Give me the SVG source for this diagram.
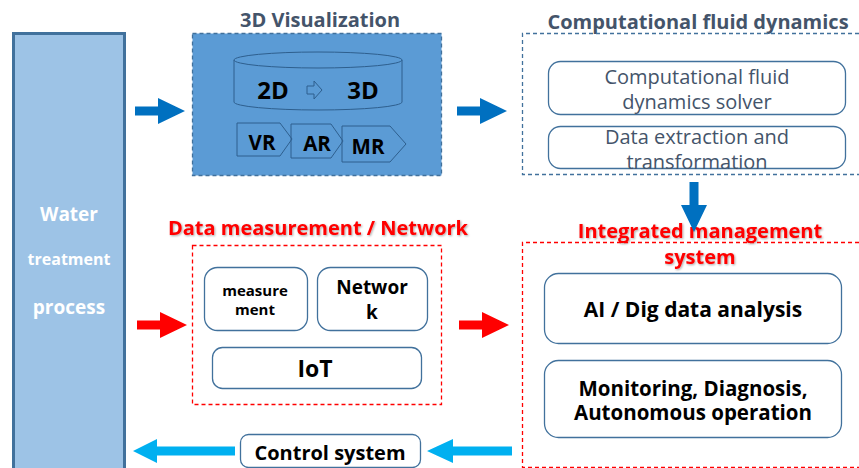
<svg xmlns="http://www.w3.org/2000/svg" width="859" height="468" viewBox="0 0 859 468">
<defs>
<style>
.t{font-family:"Open Sans","Noto Sans","Liberation Sans",sans-serif;font-weight:bold;text-anchor:middle;dominant-baseline:central}
.title{fill:#44546a;font-size:20px}
.red{fill:#ff0000;font-size:20px;filter:url(#sh)}
.blk{fill:#000}
.rbox{fill:#fff;stroke:#41719c;stroke-width:1.3}
.cfd{font-family:"Open Sans","Noto Sans","Liberation Sans",sans-serif;fill:#44546a;font-size:20px;text-anchor:middle;dominant-baseline:central}
.dash{fill:none;stroke-dasharray:4 3;stroke-width:1.3}
.vz{fill:none;stroke:#2e5f8e;stroke-width:1}
</style>
<filter id="sh" x="-5%" y="-20%" width="110%" height="150%">
<feDropShadow dx="1" dy="1" stdDeviation="0.8" flood-color="#000" flood-opacity="0.35"/>
</filter>
<path id="arr" d="M0,-4.5 H23 V-13 L50,0 L23,13 V4.5 H0 Z"/>
</defs>
<rect width="859" height="468" fill="#fff"/>

<g id="water">
<rect x="13.5" y="33.5" width="111" height="440" fill="#9dc3e6" stroke="#41719c" stroke-width="3"/>
<text class="t" x="69" y="214" fill="#fff" font-size="19">Water</text>
<text class="t" x="69" y="259" fill="#fff" font-size="16">treatment</text>
<text class="t" x="69" y="307" fill="#fff" font-size="19">process</text>
</g>

<g id="viz">
<text class="t title" x="320" y="19">3D Visualization</text>
<rect x="192.5" y="33.5" width="249" height="142" stroke="#41719c" class="dash" style="fill:#5b9bd5"/>
<path class="vz" d="M234,60 V102 A84,8 0 0 0 402,102 V60"/>
<ellipse class="vz" cx="318" cy="60" rx="84" ry="8"/>
<text class="t blk" x="273" y="89" font-size="24">2D</text>
<path class="vz" d="M307,86 H314 V81 L322,90 L314,99 V94 H307 Z"/>
<text class="t blk" x="363" y="89" font-size="24">3D</text>
<path class="vz" d="M237,123 H280 L292,139 L280,156 H237 Z"/>
<path class="vz" d="M291,124 H331 L343,141 L331,158 H291 Z"/>
<path class="vz" d="M342,126 H390 L406,144 L390,162 H342 Z"/>
<text class="t blk" x="262" y="142" font-size="20.5">VR</text>
<text class="t blk" x="317" y="143" font-size="20.5">AR</text>
<text class="t blk" x="368" y="146" font-size="20.5">MR</text>
</g>

<g id="cfd">
<text class="t title" x="698" y="21">Computational fluid dynamics</text>
<path class="dash" stroke="#41719c" d="M859,33.5 H522.5 V174.5 H859"/>
<rect class="rbox" x="548.5" y="61.5" width="297" height="53" rx="12"/>
<text class="cfd" x="697" y="76">Computational fluid</text>
<text class="cfd" x="697" y="101">dynamics solver</text>
<rect class="rbox" x="548.5" y="126.5" width="297" height="42" rx="12"/>
<text class="cfd" x="697" y="136">Data extraction and</text>
<text class="cfd" x="697" y="161">transformation</text>
</g>

<g id="data">
<text class="t red" x="318" y="227">Data measurement / Network</text>
<rect class="dash" stroke="#ff0000" x="192.5" y="245.5" width="249" height="159"/>
<rect class="rbox" x="204.5" y="267.5" width="103" height="63" rx="13"/>
<text class="t blk" x="255" y="290" font-size="15">measure</text>
<text class="t blk" x="255" y="309" font-size="15">ment</text>
<rect class="rbox" x="317.5" y="267.5" width="110" height="63" rx="13"/>
<text class="t blk" x="372" y="287" font-size="19">Networ</text>
<text class="t blk" x="372" y="312" font-size="19">k</text>
<rect class="rbox" x="212.5" y="347.5" width="209" height="41" rx="10"/>
<text class="t blk" x="315" y="368" font-size="23">IoT</text>
</g>

<g id="ims">
<text class="t red" x="700" y="230">Integrated management</text>
<text class="t red" x="700" y="256">system</text>
<path class="dash" stroke="#ff0000" d="M859,242.5 H522.5 V467.5 H859"/>
<rect class="rbox" x="544.5" y="273.5" width="297" height="70" rx="14"/>
<text class="t blk" x="693" y="309" font-size="21">AI / Dig data analysis</text>
<rect class="rbox" x="544.5" y="360.5" width="297" height="77" rx="14"/>
<text class="t blk" x="693" y="388" font-size="20.5">Monitoring, Diagnosis,</text>
<text class="t blk" x="693" y="412" font-size="20.5">Autonomous operation</text>
</g>

<g id="control">
<rect class="rbox" x="240.5" y="434.5" width="180" height="33" rx="8"/>
<text class="t blk" x="330" y="452" font-size="20">Control system</text>
</g>

<g id="connectors">
<use href="#arr" transform="translate(135,111)" fill="#0070c0"/>
<use href="#arr" transform="translate(457,111)" fill="#0070c0"/>
<use href="#arr" transform="translate(694,182) rotate(90)" fill="#0070c0"/>
<use href="#arr" transform="translate(137,325)" fill="#ff0000"/>
<use href="#arr" transform="translate(459,325)" fill="#ff0000"/>
<path d="M235,446.5 H157 V439 L133,451 L157,463 V455.5 H235 Z" fill="#00b0f0"/>
<path d="M512,446.5 H453 V439 L427,451 L453,463 V455.5 H512 Z" fill="#00b0f0"/>
</g>
</svg>
